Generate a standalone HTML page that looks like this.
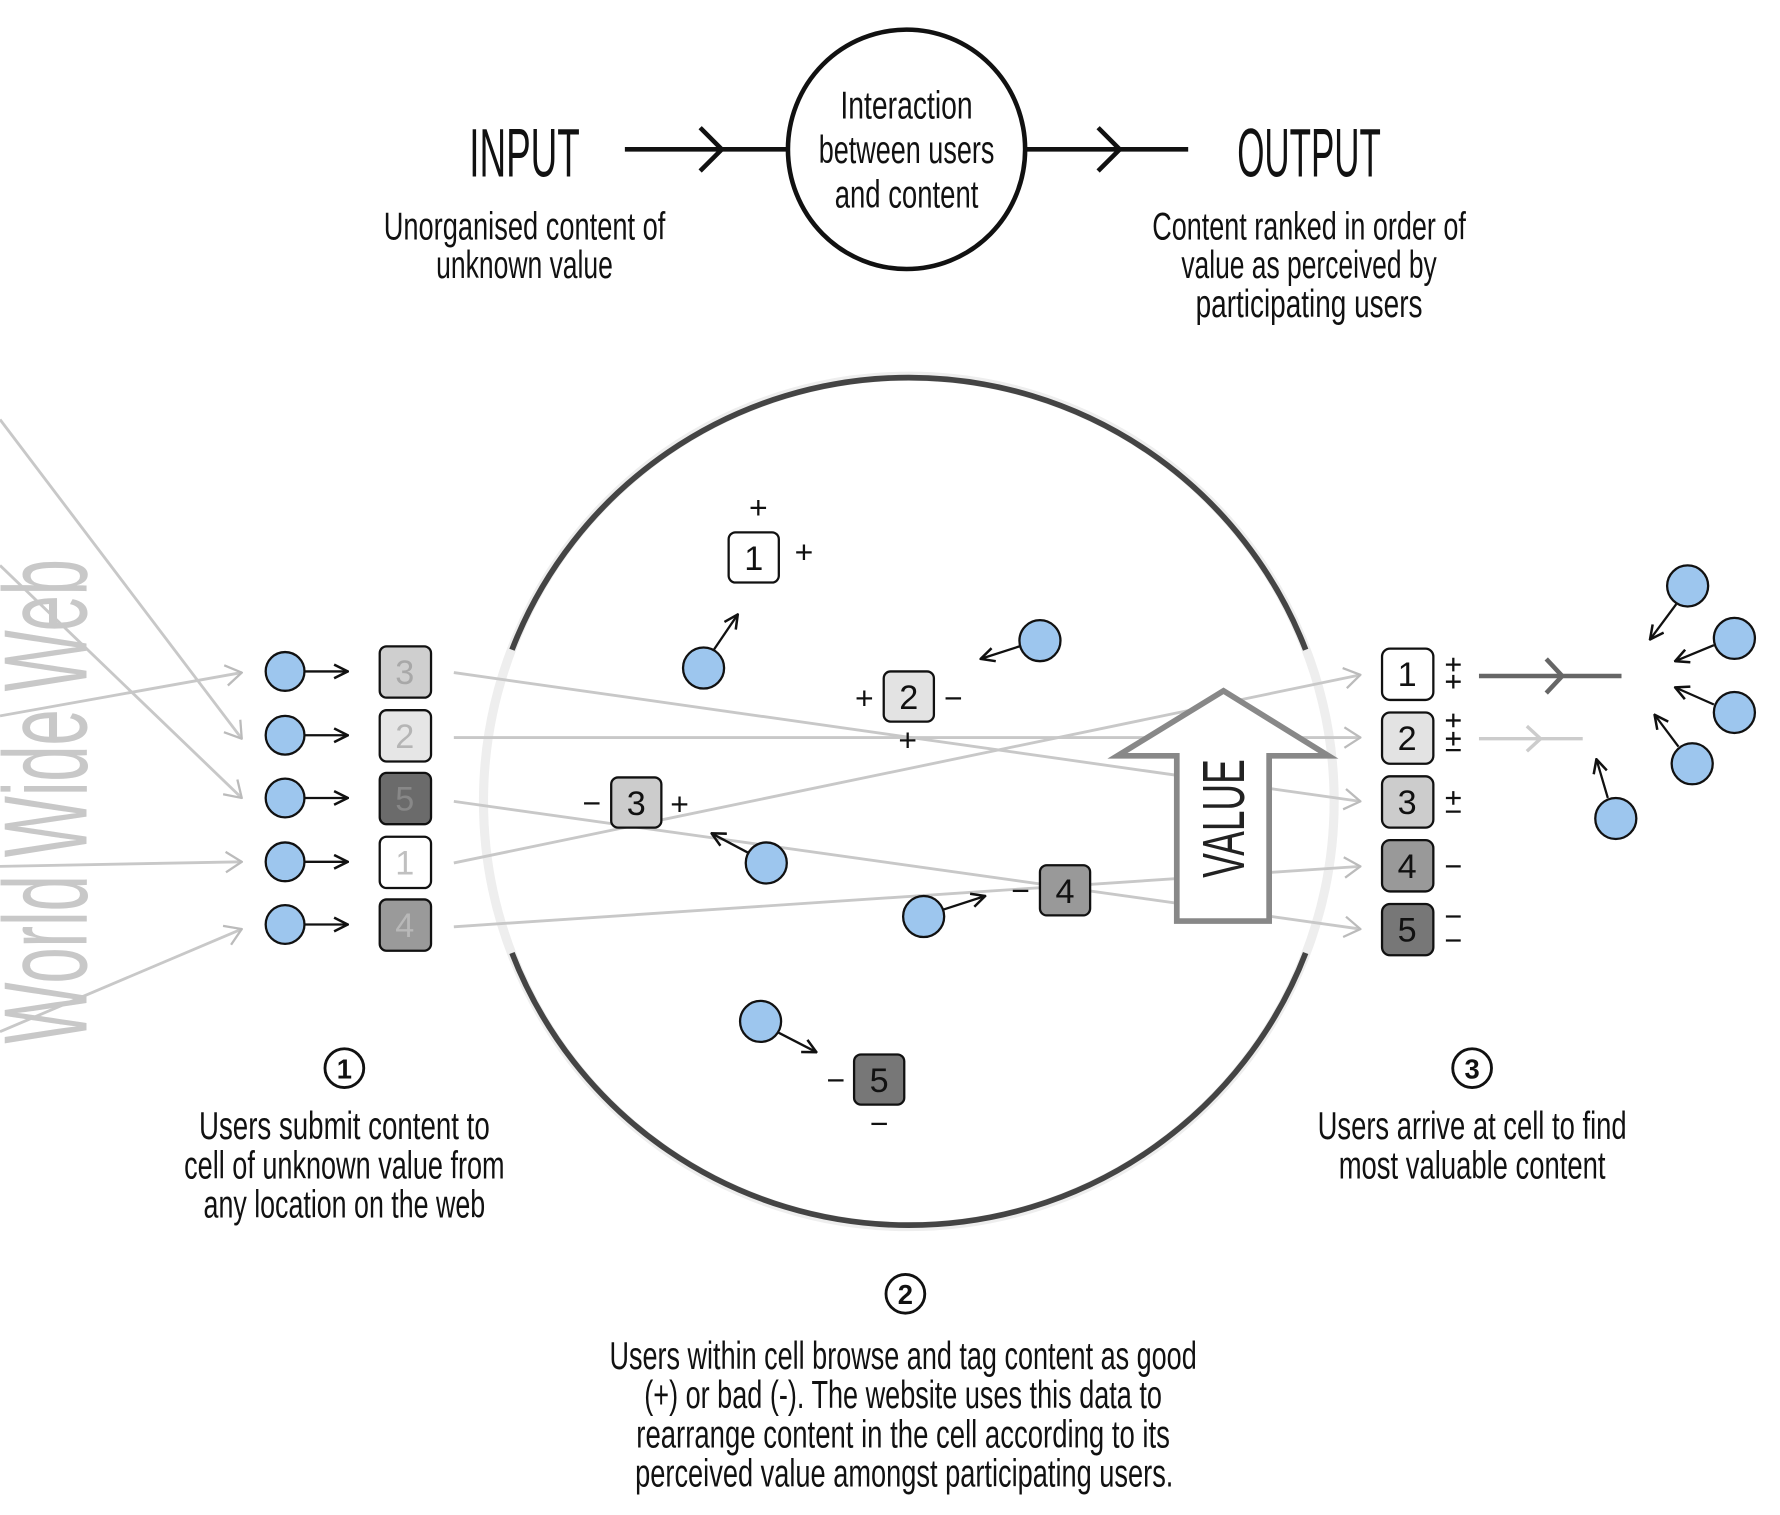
<!DOCTYPE html>
<html><head><meta charset="utf-8"><style>
html,body{margin:0;padding:0;background:#fff;width:1780px;height:1515px;overflow:hidden}
svg{display:block}
text{font-family:"Liberation Sans Narrow","Liberation Sans",sans-serif}
</style></head><body>
<svg width="1780" height="1515" viewBox="0 0 1561 1329" preserveAspectRatio="none" xmlns="http://www.w3.org/2000/svg">
<defs>
<marker id="ah" viewBox="0 0 14 14" refX="13" refY="7" markerWidth="14" markerHeight="14" markerUnits="userSpaceOnUse" orient="auto"><path d="M1,1 L13,7 L1,13" fill="none" stroke="#111" stroke-width="2.2"/></marker>
<marker id="gh" viewBox="0 0 16 20" refX="15" refY="10" markerWidth="16" markerHeight="20" markerUnits="userSpaceOnUse" orient="auto"><path d="M1,1 L15,10 L1,19" fill="none" stroke="#bbb" stroke-width="2"/></marker>
</defs>
<rect width="1561" height="1329" fill="#fff"/>

<text x="460" y="155" font-size="60" text-anchor="middle" textLength="97" lengthAdjust="spacingAndGlyphs" fill="#111">INPUT</text>
<text x="1148" y="155" font-size="60" text-anchor="middle" textLength="126" lengthAdjust="spacingAndGlyphs" fill="#111">OUTPUT</text>
<line x1="548" y1="131" x2="692" y2="131" stroke="#111" stroke-width="4"/>
<path d="M614,112 L633,131 L614,150" fill="none" stroke="#111" stroke-width="4"/>
<line x1="898" y1="131" x2="1042" y2="131" stroke="#111" stroke-width="4"/>
<path d="M963,112 L982,131 L963,150" fill="none" stroke="#111" stroke-width="4"/>
<ellipse cx="795" cy="131" rx="104" ry="105" fill="none" stroke="#111" stroke-width="4"/>
<g font-size="34" text-anchor="middle" fill="#111">
<text x="795" y="104" textLength="116" lengthAdjust="spacingAndGlyphs">Interaction</text>
<text x="795" y="143" textLength="154" lengthAdjust="spacingAndGlyphs">between users</text>
<text x="795" y="182" textLength="126" lengthAdjust="spacingAndGlyphs">and content</text>
<text x="460" y="210" textLength="247" lengthAdjust="spacingAndGlyphs">Unorganised content of</text>
<text x="460" y="244" textLength="155" lengthAdjust="spacingAndGlyphs">unknown value</text>
<text x="1148" y="210" textLength="275" lengthAdjust="spacingAndGlyphs">Content ranked in order of</text>
<text x="1148" y="244" textLength="224" lengthAdjust="spacingAndGlyphs">value as perceived by</text>
<text x="1148" y="278" textLength="199" lengthAdjust="spacingAndGlyphs">participating users</text>
</g>

<text transform="translate(76,703) rotate(-90)" font-size="104" text-anchor="middle" textLength="425" lengthAdjust="spacingAndGlyphs" fill="#c8c8c8">World Wide Web</text>

<circle cx="797" cy="703" r="373" fill="none" stroke="#eeeeee" stroke-width="8"/>
<path d="M449,570 A373,373 0 0 1 1145,570" fill="none" stroke="#444" stroke-width="5"/>
<path d="M449,836 A373,373 0 0 0 1145,836" fill="none" stroke="#444" stroke-width="5"/>

<g stroke="#c8c8c8" stroke-width="2.5" fill="none" marker-end="url(#gh)">
<line x1="0" y1="368" x2="212" y2="648"/>
<line x1="0" y1="496" x2="212" y2="700"/>
<line x1="0" y1="628" x2="212" y2="590"/>
<line x1="0" y1="760" x2="212" y2="756"/>
<line x1="0" y1="905" x2="212" y2="815"/>
<line x1="398" y1="590" x2="1193" y2="703"/>
<line x1="398" y1="647" x2="1193" y2="647"/>
<line x1="398" y1="703" x2="1193" y2="815"/>
<line x1="398" y1="757" x2="1193" y2="592"/>
<line x1="398" y1="813" x2="1193" y2="760"/>
</g>

<polygon points="1073,606 980,663 1032,663 1032,808 1113,808 1113,663 1165,663" fill="#fff" stroke="#888" stroke-width="5" stroke-linejoin="miter"/>
<text transform="translate(1091,718) rotate(-90)" font-size="52" text-anchor="middle" textLength="104" lengthAdjust="spacingAndGlyphs" fill="#222">VALUE</text>

<g stroke="#111" stroke-width="2">
<g fill="#9dc6ee">
<circle cx="250" cy="589" r="17"/><circle cx="250" cy="645" r="17"/><circle cx="250" cy="700" r="17"/><circle cx="250" cy="756" r="17"/><circle cx="250" cy="811" r="17"/>
</g>
<g marker-end="url(#ah)">
<line x1="267" y1="589" x2="305" y2="589"/><line x1="267" y1="645" x2="305" y2="645"/><line x1="267" y1="700" x2="305" y2="700"/><line x1="267" y1="756" x2="305" y2="756"/><line x1="267" y1="811" x2="305" y2="811"/>
</g>
<rect x="333" y="567" width="45" height="45" rx="6" fill="#cfcfcf"/>
<rect x="333" y="623" width="45" height="45" rx="6" fill="#e6e6e6"/>
<rect x="333" y="678" width="45" height="45" rx="6" fill="#6b6b6b"/>
<rect x="333" y="734" width="45" height="45" rx="6" fill="#fff"/>
<rect x="333" y="789" width="45" height="45" rx="6" fill="#9a9a9a"/>
</g>
<g font-size="30" text-anchor="middle" font-family="Liberation Sans,sans-serif">
<text x="355" y="600" fill="#a8a8a8">3</text>
<text x="355" y="656" fill="#b5b5b5">2</text>
<text x="355" y="711" fill="#888">5</text>
<text x="355" y="767" fill="#c0c0c0">1</text>
<text x="355" y="822" fill="#b8b8b8">4</text>
</g>

<g stroke="#111" stroke-width="2">
<rect x="639" y="467" width="44" height="44" rx="6" fill="#fff"/>
<rect x="775" y="589" width="44" height="44" rx="6" fill="#e3e3e3"/>
<rect x="536" y="682" width="44" height="44" rx="6" fill="#cccccc"/>
<rect x="912" y="759" width="44" height="44" rx="6" fill="#999"/>
<rect x="749" y="925" width="44" height="44" rx="6" fill="#777"/>
<g fill="#9dc6ee">
<circle cx="617" cy="586" r="18"/><circle cx="912" cy="562" r="18"/><circle cx="672" cy="757" r="18"/><circle cx="810" cy="804" r="18"/><circle cx="667" cy="896" r="18"/>
</g>
<g marker-end="url(#ah)" fill="none">
<line x1="626" y1="570" x2="647" y2="539"/>
<line x1="894" y1="567" x2="860" y2="578"/>
<line x1="656" y1="748" x2="624" y2="731"/>
<line x1="827" y1="798" x2="864" y2="786"/>
<line x1="683" y1="906" x2="716" y2="923"/>
</g>
</g>
<g font-size="30" text-anchor="middle" font-family="Liberation Sans,sans-serif" fill="#111">
<text x="661" y="500">1</text>
<text x="797" y="622">2</text>
<text x="558" y="715">3</text>
<text x="934" y="792">4</text>
<text x="771" y="958">5</text>
</g>
<g font-size="28" text-anchor="middle" font-family="Liberation Sans,sans-serif" fill="#111">
<text x="665" y="455">+</text><text x="705" y="494">+</text>
<text x="758" y="622">+</text><text x="836" y="622">−</text><text x="796" y="659">+</text>
<text x="519" y="714">−</text><text x="596" y="715">+</text>
<text x="895" y="791">−</text>
<text x="733" y="957">−</text><text x="771" y="995">−</text>
</g>

<g stroke="#111" stroke-width="2">
<rect x="1212" y="569" width="45" height="45" rx="7" fill="#fff"/>
<rect x="1212" y="625" width="45" height="45" rx="7" fill="#e3e3e3"/>
<rect x="1212" y="681" width="45" height="45" rx="7" fill="#cccccc"/>
<rect x="1212" y="737" width="45" height="45" rx="7" fill="#999"/>
<rect x="1212" y="793" width="45" height="45" rx="7" fill="#777"/>
</g>
<g font-size="30" text-anchor="middle" font-family="Liberation Sans,sans-serif" fill="#111">
<text x="1234" y="602">1</text><text x="1234" y="658">2</text><text x="1234" y="714">3</text><text x="1234" y="770">4</text><text x="1234" y="826">5</text>
</g>
<g stroke="#111" stroke-width="2">
<path d="M1268,583h13M1274.5,577v12M1268,598h13M1274.5,592v12"/>
<path d="M1268,632h13M1274.5,626v12M1268,648h13M1274.5,642v12M1268,658h13"/>
<path d="M1268,700h13M1274.5,694v12M1268,712h13"/>
<path d="M1268,760h13"/>
<path d="M1268,804h13M1268,825h13"/>
</g>
<line x1="1297" y1="593" x2="1422" y2="593" stroke="#666" stroke-width="4"/>
<path d="M1356,578 L1370,593 L1356,608" fill="none" stroke="#666" stroke-width="4"/>
<line x1="1297" y1="648" x2="1388" y2="648" stroke="#ccc" stroke-width="3"/>
<path d="M1339,637 L1351,648 L1339,659" fill="none" stroke="#ccc" stroke-width="3"/>
<g stroke="#111" stroke-width="2">
<g fill="#9dc6ee">
<circle cx="1480" cy="514" r="18"/><circle cx="1521" cy="560" r="18"/><circle cx="1521" cy="625" r="18"/><circle cx="1484" cy="670" r="18"/><circle cx="1417" cy="718" r="18"/>
</g>
<g marker-end="url(#ah)" fill="none">
<line x1="1470" y1="530" x2="1447" y2="561"/>
<line x1="1503" y1="566" x2="1469" y2="580"/>
<line x1="1503" y1="618" x2="1469" y2="603"/>
<line x1="1472" y1="655" x2="1451" y2="627"/>
<line x1="1410" y1="700" x2="1400" y2="666"/>
</g>
</g>

<g stroke="#111" stroke-width="2.5" fill="none">
<circle cx="302" cy="937" r="17"/><circle cx="1291" cy="937" r="17"/><circle cx="794" cy="1135" r="17"/>
</g>
<g font-size="24" font-weight="bold" text-anchor="middle" font-family="Liberation Sans,sans-serif" fill="#111">
<text x="302" y="946">1</text><text x="1291" y="946">3</text><text x="794" y="1144">2</text>
</g>
<g font-size="34" text-anchor="middle" fill="#111">
<text x="302" y="999" textLength="255" lengthAdjust="spacingAndGlyphs">Users submit content to</text>
<text x="302" y="1034" textLength="281" lengthAdjust="spacingAndGlyphs">cell of unknown value from</text>
<text x="302" y="1068" textLength="247" lengthAdjust="spacingAndGlyphs">any location on the web</text>
<text x="1291" y="999" textLength="271" lengthAdjust="spacingAndGlyphs">Users arrive at cell to find</text>
<text x="1291" y="1034" textLength="234" lengthAdjust="spacingAndGlyphs">most valuable content</text>
<text x="792" y="1201" textLength="515" lengthAdjust="spacingAndGlyphs">Users within cell browse and tag content as good</text>
<text x="792" y="1235" textLength="454" lengthAdjust="spacingAndGlyphs">(+) or bad (-). The website uses this data to</text>
<text x="792" y="1270" textLength="468" lengthAdjust="spacingAndGlyphs">rearrange content in the cell according to its</text>
<text x="793" y="1304" textLength="472" lengthAdjust="spacingAndGlyphs">perceived value amongst participating users.</text>
</g>
</svg>
</body></html>
